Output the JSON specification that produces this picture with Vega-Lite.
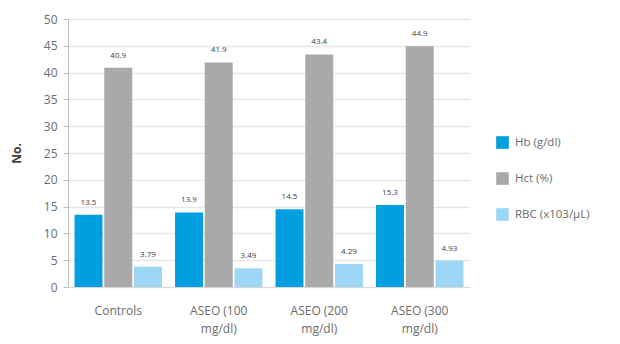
{
  "$schema": "https://vega.github.io/schema/vega-lite/v6.json",
  "width": 402,
  "height": 268,
  "autosize": {"type": "none"},
  "padding": {"left": 68, "top": 19, "right": 150, "bottom": 57},
  "background": "white",
  "config": {
    "view": {"stroke": null},
    "font": "Open Sans"
  },
  "data": {
    "values": [
      {"group": "Controls", "series": "Hb (g/dl)", "value": 13.5, "label": "13.5"},
      {"group": "Controls", "series": "Hct (%)", "value": 40.9, "label": "40.9"},
      {"group": "Controls", "series": "RBC (x103/µL)", "value": 3.79, "label": "3.79"},
      {"group": "ASEO (100 mg/dl)", "series": "Hb (g/dl)", "value": 13.9, "label": "13.9"},
      {"group": "ASEO (100 mg/dl)", "series": "Hct (%)", "value": 41.9, "label": "41.9"},
      {"group": "ASEO (100 mg/dl)", "series": "RBC (x103/µL)", "value": 3.49, "label": "3.49"},
      {"group": "ASEO (200 mg/dl)", "series": "Hb (g/dl)", "value": 14.5, "label": "14.5"},
      {"group": "ASEO (200 mg/dl)", "series": "Hct (%)", "value": 43.4, "label": "43.4"},
      {"group": "ASEO (200 mg/dl)", "series": "RBC (x103/µL)", "value": 4.29, "label": "4.29"},
      {"group": "ASEO (300 mg/dl)", "series": "Hb (g/dl)", "value": 15.3, "label": "15.3"},
      {"group": "ASEO (300 mg/dl)", "series": "Hct (%)", "value": 44.9, "label": "44.9"},
      {"group": "ASEO (300 mg/dl)", "series": "RBC (x103/µL)", "value": 4.93, "label": "4.93"}
    ]
  },
  "encoding": {
    "x": {
      "field": "group",
      "type": "nominal",
      "sort": null,
      "scale": {"paddingInner": 0.13, "paddingOuter": 0.065},
      "axis": {
        "title": null,
        "labelAngle": 0,
        "labelColor": "#6b6b6b",
        "labelFontSize": 12,
        "labelPadding": 18,
        "labelLineHeight": 18,
        "labelExpr": "datum.value == 'Controls' ? datum.value : [slice(datum.value, 0, 9), slice(datum.value, 10)]",
        "domainColor": "#d9d9d9",
        "ticks": false
      }
    },
    "xOffset": {
      "field": "series",
      "type": "nominal",
      "sort": null,
      "scale": {"paddingInner": 0.06}
    },
    "y": {
      "field": "value",
      "type": "quantitative",
      "scale": {"domain": [0, 50]},
      "axis": {
        "title": "No.",
        "titleFontSize": 12,
        "titleColor": "#404040",
        "titleFontWeight": "bold",
        "titlePadding": 20,
        "values": [0, 5, 10, 15, 20, 25, 30, 35, 40, 45, 50],
        "labelOverlap": false,
        "labelFlush": false,
        "labelColor": "#6b6b6b",
        "labelFontSize": 12,
        "labelPadding": 6,
        "domainColor": "#bfbfbf",
        "tickColor": "#bfbfbf",
        "tickSize": 5,
        "gridColor": "#e6e6e6",
        "gridWidth": 1.5
      }
    }
  },
  "layer": [
    {
      "mark": {"type": "bar"},
      "encoding": {
        "color": {
          "field": "series",
          "type": "nominal",
          "sort": null,
          "scale": {"range": ["#009fdf", "#a9a9a9", "#9dd7f5"]},
          "legend": {
            "title": null,
            "orient": "none",
            "legendX": 428,
            "legendY": 117,
            "symbolType": "square",
            "symbolSize": 160,
            "symbolStrokeWidth": 0,
            "rowPadding": 23,
            "labelFontSize": 11.5,
            "labelColor": "#6b6b6b",
            "labelOffset": 6
          }
        }
      }
    },
    {
      "mark": {"type": "text", "dy": -12, "fontSize": 8, "color": "#404040"},
      "encoding": {
        "text": {"field": "label"}
      }
    }
  ]
}
